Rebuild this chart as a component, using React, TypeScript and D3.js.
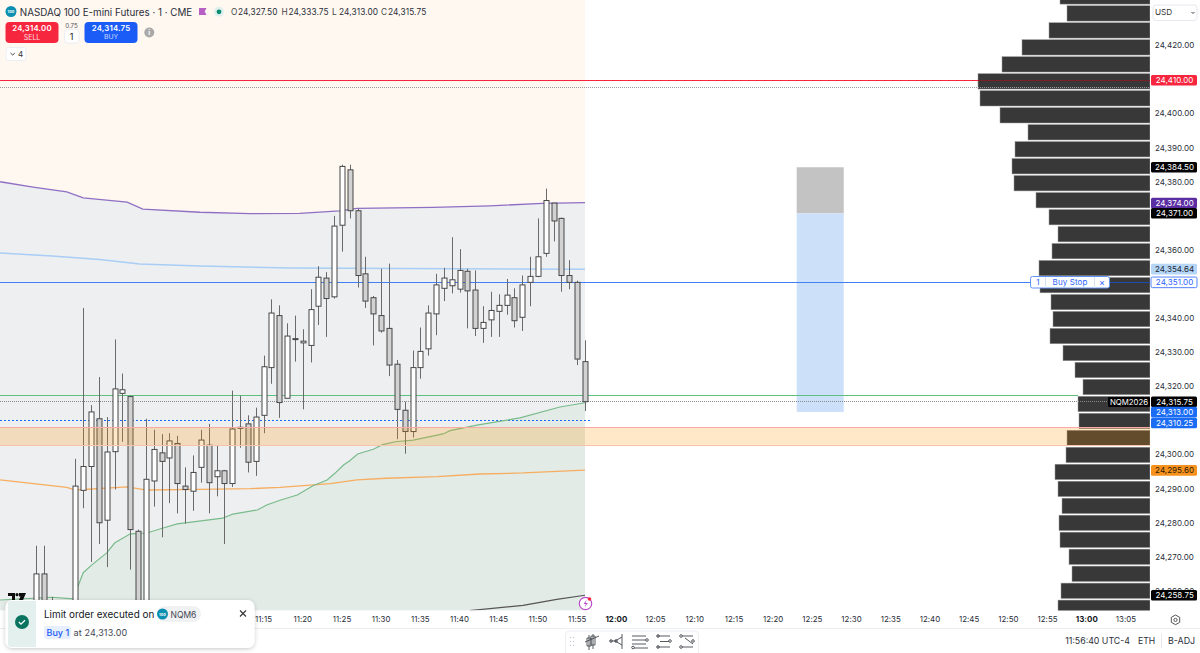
import React from "react";
import * as d3 from "d3";

const FIRST_MINUTE = 646; // 10:46
const opens = [24245,24265.25,24252,24250,24249,24245,24289.75,24296.75,24310.75,24281,24301.1,24318.2,24317.25,24277.75,24250,24292.5,24300.75,24299.25,24303.5,24291,24289.5,24296.5,24303,24293.75,24295.5,24291.75,24308.25,24309.25,24298.25,24311.75,24325.75,24341,24316.75,24334,24333,24332.25,24343.75,24352,24346.5,24367.5,24383.75,24371.75,24353.25,24346.25,24341,24337.25,24326.75,24313.25,24307,24325.75,24331.25,24341.5,24349,24349.75,24348.75,24354,24348.5,24337.25,24339.75,24342.25,24344,24346.25,24340.5,24350.75,24352.5,24359.25,24374,24369.5,24352.75,24350.75,24327.5];
const closes = [24265.25,24245,24248,24247,24246,24291,24296.75,24312.75,24280.25,24301,24319.5,24319.25,24278.25,24250,24293,24301.75,24298.25,24304.25,24291.75,24290,24295,24304.5,24292,24295.5,24291.75,24307.75,24308,24298,24311.25,24326,24341.75,24315.5,24335,24334.25,24333.5,24342.75,24352.25,24346,24367.25,24384.75,24371.75,24352.75,24345.25,24341.5,24336.5,24326.5,24313.5,24307,24325.75,24330.5,24341.75,24350,24352,24351.5,24354.25,24348.25,24337.25,24339,24342.5,24344,24347,24339.5,24350,24352.5,24358.25,24374.75,24368.75,24352.75,24350.75,24328.25,24315.75];
const highs = [24273.5,24273.5,24258.5,24252,24251,24299,24343.25,24314.75,24323,24311.25,24334,24324,24317.5,24278.25,24310.75,24307.5,24306.25,24306.5,24305.75,24296.5,24300,24307.5,24309.25,24303,24295.75,24319,24317.5,24311.75,24314,24329.25,24345.75,24344,24338.75,24341,24337,24348.75,24355.5,24353.75,24370.25,24385.25,24385.25,24372.25,24358.25,24346.75,24354.75,24356.25,24328,24315.75,24330.75,24337.5,24344,24353.25,24355,24364,24360.5,24354.75,24354.25,24343.75,24348,24347.25,24351.75,24349,24352.75,24358.25,24369.5,24378.25,24374,24369.75,24357.25,24351.25,24333.75];
const lows = [24240,24240,24240,24240,24240,24240,24284.5,24268.75,24274,24267.25,24290,24304,24266.5,24245,24245,24285,24276,24286,24283,24280,24283.75,24292,24283,24288,24274,24290.75,24302.25,24295,24294,24306.5,24321,24311,24316.75,24327.5,24313.5,24327.25,24338.25,24334.75,24346,24359.75,24369.5,24349.25,24343.25,24332.25,24336,24323.25,24304.75,24300.5,24305.25,24322.5,24329.25,24335.25,24345.25,24347.5,24347.75,24337.25,24335,24333,24334.75,24334.75,24341.25,24337.5,24336.5,24343.75,24352.25,24358.25,24362.75,24348,24348.75,24326.5,24313];

const purpleMinutes = [641.4,645.6,649.9,652,657.6,659.6,666.9,673.3,679.6,684.7,686.9,696.6,703.9,710.6,716];
const purplePrices = [24380.25,24378.7,24377.25,24375.5,24374.3,24372.25,24371.3,24370.9,24371,24371.7,24372.45,24372.75,24373.2,24373.9,24374.1];
const blueMinutes = [641.4,648,654.1,659.2,666.9,678.4,716];
const bluePrices = [24359.35,24358.5,24357.45,24356.15,24355.55,24354.95,24354.6];
const orangeMinutes = [641.4,649.9,651,657.6,660.1,666.9,673.3,677.1,683.5,686.9,690.7,697.1,702.6,708.1,716];
const orangePrices = [24292.8,24290.65,24289.85,24290.8,24289.85,24290.05,24290.25,24290.65,24291.7,24292.8,24293.3,24293.75,24294.55,24294.85,24295.7];
const greenMinutes = [641.4,648,650.7,652,653.1,655,656,658,660.1,662.2,664,669.8,671.1,674.2,675.4,677.1,679.3,681.3,683.1,684.1,685.2,686,687,689,690.2,691.8,694.1,697.9,698.8,702.2,707.7,712.8,716];
const greenPrices = [24257.6,24258.4,24257.9,24265.6,24267.9,24271.4,24274.3,24277,24277.25,24278.7,24279.9,24281.6,24282.8,24284,24285.45,24286.85,24288.4,24291.1,24292.8,24294.75,24297.2,24298.45,24300.4,24301.8,24303.15,24304,24304.5,24306.3,24307.25,24308.9,24311,24314.2,24315.45];
const darkMinutes = [701.3,708.1,712.4,716];
const darkPrices = [24254.5,24256,24257.8,24259];

const profileTopPrice = 24437;
const profileStep = 4.98;
const profileVolumes = [90,83,101,128,148,172,170,150,122,135,138,136,114,101,92,98,111,110,99,97,100,87,75,67,72,71,83,84,95,92,88,91,90,81,78,89,92];

const priceTicks = [24420,24400,24390,24380,24360,24340,24330,24320,24300,24290,24280,24270,24260];
const timeTicks = ["11:15","11:20","11:25","11:30","11:35","11:40","11:45","11:50","11:55","12:00","12:05","12:10","12:15","12:20","12:25","12:30","12:35","12:40","12:45","12:50","12:55","13:00","13:05"];
const boldTimes = ["12:00","13:00"];

const tagLabels = ["24,410.00","24,384.50","24,374.00","24,371.00","24,354.64","24,351.00","24,315.75","24,313.00","24,310.25","24,295.60","24,258.75"];
const tagPrices = [24410,24384.5,24374,24371,24354.64,24350.75,24315.75,24312.7,24309.5,24295.6,24259];
const tagFills = ["#f7253e","#000000","#5b2da3","#000000","#b5d6f7","#ffffff","#000000","#1a6cf5","#1a6cf5","#f8921e","#000000"];
const tagText = ["#ffffff","#ffffff","#ffffff","#ffffff","#1c2530","#2962ff","#ffffff","#ffffff","#ffffff","#2a1c08","#ffffff"];

const LEVEL_RED = 24410, LEVEL_RED_DOT = 24408, LEVEL_BLUE = 24350.75, LEVEL_GREEN = 24317.5, LEVEL_LAST = 24315.75, LEVEL_FILL = 24310.25;
const BAND_TOP = 24308.25, BAND_BOTTOM = 24303;
const BOX_TOP = 24384.5, BOX_ENTRY = 24371, BOX_BOTTOM = 24312.75, BOX_START = 743, BOX_END = 749;

const y = d3.scaleLinear().domain([24410, 24315.75]).range([80.3, 401.7]);
const x = d3.scaleLinear().domain([716, 781]).range([585, 1094.6]);
const vol = d3.scaleLinear().domain([0, 172]).range([1150, 978]);

const zip = (m: number[], p: number[]) => m.map((v, i) => [v, p[i]] as [number, number]);
const lineGen = d3.line<[number, number]>().x(d => x(d[0])).y(d => y(d[1]));
const PLOT_R = 585, PLOT_B = 610.5, AXIS_R = 1150;
const FONT = "Inter, 'Liberation Sans', sans-serif";

const purple = zip(purpleMinutes, purplePrices);
const green = zip(greenMinutes, greenPrices);
const aboveArea = d3.area<[number, number]>().x(d => x(d[0])).y0(0).y1(d => y(d[1]))(purple)!;
const belowArea = d3.area<[number, number]>().x(d => x(d[0])).y0(PLOT_B).y1(d => y(d[1]))(green)!;

const minuteOf = (t: string) => { const [h, m] = t.split(":").map(Number); return h * 60 + m; };
const fmt = d3.format(",.2f");

function HLine({ p, x1, x2, c, w = 1, dash }: { p: number; x1: number; x2: number; c: string; w?: number; dash?: string }) {
  const v = Math.floor(y(p)) + 0.5;
  return <line x1={x1} x2={x2} y1={v} y2={v} stroke={c} strokeWidth={w} strokeDasharray={dash} />;
}

export default function App() {
  return (
    <svg width={1200} height={653} viewBox="0 0 1200 653" style={{ position: "fixed", left: 0, top: 0, display: "block", background: "#fff" }} fontFamily={FONT}>
      <defs>
        <clipPath id="plot"><rect x={0} y={0} width={PLOT_R + 10} height={PLOT_B} /></clipPath>
        <filter id="sh" x="-10%" y="-20%" width="120%" height="150%"><feDropShadow dx="0" dy="1" stdDeviation="2" floodColor="#000" floodOpacity="0.22" /></filter>
      </defs>

      {/* session backgrounds */}
      <rect x={0} y={0} width={PLOT_R} height={PLOT_B} fill="#eeeff1" />
      <path d={aboveArea} fill="#fff8f1" />
      <path d={belowArea} fill="#e3ebe7" />

      {/* long position box */}
      <rect x={x(BOX_START)} width={x(BOX_END) - x(BOX_START)} y={y(BOX_TOP)} height={y(BOX_ENTRY) - y(BOX_TOP)} fill="#c3c3c3" />
      <rect x={x(BOX_START)} width={x(BOX_END) - x(BOX_START)} y={y(BOX_ENTRY)} height={y(BOX_BOTTOM) - y(BOX_ENTRY)} fill="#cde0fa" />

      {/* volume profile */}
      <g>
        {profileVolumes.map((v, i) => {
          const top = y(profileTopPrice - i * profileStep);
          return <rect key={i} x={vol(v)} y={top + 0.5} width={AXIS_R - vol(v)} height={y(profileTopPrice - (i + 1) * profileStep) - top - 1.6} fill="#383838" stroke="#9a9a9a" strokeWidth={0.5} />;
        })}
      </g>

      {/* levels */}
      <HLine p={LEVEL_RED} x1={0} x2={978} c="#f7253e" />
      <HLine p={LEVEL_RED} x1={978} x2={AXIS_R} c="#7c1f24" />
      <HLine p={LEVEL_RED_DOT} x1={0} x2={AXIS_R} c="#9a9a9a" dash="1 1" />
      <HLine p={LEVEL_BLUE} x1={0} x2={1031} c="#3f80f5" />
      <HLine p={LEVEL_BLUE} x1={1109} x2={AXIS_R} c="#1f4db0" />
      <HLine p={LEVEL_GREEN} x1={0} x2={1078} c="#5fbf7e" w={1.2} />
      <HLine p={LEVEL_LAST} x1={0} x2={1110} c="#8a8a8a" dash="1 1" />
      <HLine p={LEVEL_FILL} x1={0} x2={590} c="#1a6cf5" dash="2 2" w={1.2} />

      {/* moving lines */}
      <path d={lineGen(purple)!} fill="none" stroke="#8f6fc4" strokeWidth={1.3} />
      <path d={lineGen(zip(blueMinutes, bluePrices))!} fill="none" stroke="#a9cef5" strokeWidth={1.5} />
      <path d={lineGen(zip(orangeMinutes, orangePrices))!} fill="none" stroke="#f6ad60" strokeWidth={1.3} />
      <path d={lineGen(green)!} fill="none" stroke="#79bb8b" strokeWidth={1.2} />
      <g clipPath="url(#plot)">
        <path d={lineGen(zip(darkMinutes, darkPrices))!} fill="none" stroke="#555" strokeWidth={1.2} />
      </g>

      {/* candles */}
      <g clipPath="url(#plot)">
        {opens.map((o, i) => {
          const c = closes[i];
          const cx = Math.round(x(FIRST_MINUTE + i)) + 0.5;
          const t = y(Math.max(o, c)), b = y(Math.min(o, c));
          return (
            <g key={i}>
              <line x1={cx} x2={cx} y1={y(highs[i])} y2={y(lows[i])} stroke="#6a6a6a" strokeWidth={1} />
              <rect x={cx - 2.5} width={5} y={t} height={Math.max(b - t, 1)} fill={c >= o ? "#ffffff" : "#d2d2d2"} stroke="#474747" strokeWidth={1} />
            </g>
          );
        })}
      </g>

      {/* supply band */}
      <rect x={0} width={AXIS_R} y={y(BAND_TOP)} height={y(BAND_BOTTOM) - y(BAND_TOP)} fill="#ff9800" fillOpacity={0.22} />
      <HLine p={BAND_TOP} x1={0} x2={AXIS_R} c="#f6aaa2" />
      <HLine p={BAND_BOTTOM} x1={0} x2={AXIS_R} c="#f6c4aa" />

      {/* price scale */}
      <rect x={AXIS_R} y={0} width={50} height={628} fill="#fff" />
      {priceTicks.map(p => (
        <text key={p} x={1174.6} y={y(p) - 0.8} dy="0.36em" textAnchor="middle" fontSize={8} letterSpacing={0.05} fill="#2a2e39">{fmt(p)}</text>
      ))}
      {tagLabels.map((l, i) => {
        const cy = y(tagPrices[i]);
        const isOrder = tagFills[i] === "#ffffff";
        return (
          <g key={l}>
            <rect x={1151} y={cy - 5.3} width={46} height={10.6} rx={1.5} fill={tagFills[i]} stroke={isOrder ? "#2962ff" : "none"} strokeWidth={0.8} />
            <text x={1174.6} y={cy} dy="0.36em" textAnchor="middle" fontSize={8} letterSpacing={0.05} fill={tagText[i]}>{l}</text>
          </g>
        );
      })}
      <rect x={1153} y={5} width={44} height={15.5} rx={3} fill="#fff" stroke="#e6e8ee" />
      <text x={1155} y={12.5} dy="0.36em" fontSize={8.2} fill="#333">USD</text>
      <path d="M1191.5 12 l1.5 1.5 l1.5 -1.5" fill="none" stroke="#444" />

      {/* NQM2026 tag and buy stop widget */}
      <rect x={1108} y={397} width={42} height={10} rx={1} fill="#000" />
      <text x={1129} y={y(LEVEL_LAST)} dy="0.36em" textAnchor="middle" fontSize={7.8} fill="#fff">NQM2026</text>
      <g>
        <rect x={1030.5} y={276.5} width={79} height={11.5} rx={2} fill="#fff" stroke="#5f93f5" />
        <line x1={1045.5} x2={1045.5} y1={277} y2={288} stroke="#d5e2fb" />
        <line x1={1094.5} x2={1094.5} y1={277} y2={288} stroke="#d5e2fb" />
        <text x={1038} y={282.3} dy="0.36em" textAnchor="middle" fontSize={8} fill="#2962ff">1</text>
        <text x={1070} y={282.3} dy="0.36em" textAnchor="middle" fontSize={8} letterSpacing={0.1} fill="#2962ff">Buy Stop</text>
        <text x={1102} y={282.3} dy="0.36em" textAnchor="middle" fontSize={9} fill="#2962ff">×</text>
      </g>

      {/* time scale */}
      <rect x={0} y={PLOT_B} width={1200} height={42} fill="#fff" />
      {timeTicks.map(t => (
        <text key={t} x={x(minuteOf(t))} y={620} dy="0.02em" textAnchor="middle" dominantBaseline="middle" fontSize={7.9} letterSpacing={0.05} fontWeight={boldTimes.includes(t) ? 700 : 400} fill={boldTimes.includes(t) ? "#131722" : "#2a2e39"}>{t}</text>
      ))}
      <g fill="none" stroke="#555">
        <path d="M1175.5 615 l4.2 2.4 v4.9 l-4.2 2.4 l-4.2 -2.4 v-4.9 z" />
        <circle cx={1175.5} cy={619.9} r={1.6} />
      </g>
      <line x1={0} x2={1200} y1={628.5} y2={628.5} stroke="#ebedf1" />

      {/* bottom status */}
      <text x={1130} y={641} dy="0.36em" textAnchor="end" fontSize={8.8} fill="#2a2e39">11:56:40 UTC-4</text>
      <text x={1138} y={641} dy="0.36em" fontSize={8.6} fill="#2a2e39">ETH</text>
      <line x1={1161.5} x2={1161.5} y1={634} y2={648} stroke="#e6e8ee" />
      <text x={1168} y={641} dy="0.36em" fontSize={8.9} fill="#2a2e39">B-ADJ</text>

      {/* drawing toolbar */}
      <g>
        <rect x={565.5} y={631} width={133} height={26} rx={4} fill="#fff" stroke="#eceef2" />
        <g fill="#c9ccd3">
          {[0, 1, 2].map(i => <g key={i}><circle cx={570.5} cy={637.5 + i * 4} r={0.7} /><circle cx={573.5} cy={637.5 + i * 4} r={0.7} /></g>)}
        </g>
        <g fill="none" stroke="#44474f" strokeWidth={0.9}>
          <path d="M585 642 l14 -6 M589 635 v15 M593 634 v15 M587 638 h4 v8 h-4 z M591 636 h4 v9 h-4 z" />
          <path d="M610 641 h5 l7 -4 M615 641 l7 4 M622 634 v15" /><circle cx={611} cy={641} r={1.3} /><circle cx={616} cy={641} r={1.3} />
          <path d="M632 636 h14 M632 640 h14 M632 644 h14 M634 648 h14" /><circle cx={647} cy={640} r={1.3} /><circle cx={633} cy={647.5} r={1.3} />
          <path d="M657 636 h13 M657 647 h13 M660 641.5 h9" /><circle cx={658} cy={636} r={1.3} /><circle cx={670} cy={641} r={1.3} /><circle cx={658} cy={647} r={1.3} />
          <path d="M682 636 h11 M682 647 h11 M685 638 l8 6" /><circle cx={681} cy={636} r={1.3} /><circle cx={693} cy={641} r={1.3} /><circle cx={681} cy={647} r={1.3} />
        </g>
      </g>

      {/* lightning */}
      <circle cx={585.5} cy={603.5} r={6.2} fill="#fff" stroke="#b94fc9" strokeWidth={1.2} />
      <path d="M586.6 599.8 l-3 4.3 h2.2 l-1.2 3.2 l3.2 -4.4 h-2.2 z" fill="#b94fc9" />
      <circle cx={589.5} cy={599} r={1.8} fill="#f7253e" />

      {/* TV logo */}
      <path d="M8 593 h7 v7 h-3 v-4 h-4 z M19 593 h7 l-3 7 h-4 l1.5 -3.5 h-1.5 z" fill="#0c0c0c" />
      <circle cx={17} cy={594.7} r={1.6} fill="#0c0c0c" />

      {/* header */}
      <circle cx={11} cy={11.5} r={5.5} fill="#0b8fb0" />
      <text x={11} y={11.7} dy="0.36em" textAnchor="middle" fontSize={3.8} fontWeight={700} fill="#fff">100</text>
      <text x={19.8} y={12} dy="0.36em" fontSize={9.8} fill="#2a2e39">NASDAQ 100 E-mini Futures · 1 · CME</text>
      <path d="M199 8 h7.5 l-1.8 3.5 l1.8 3.5 h-7.5 z" fill="#b660c6" />
      <circle cx={219} cy={11.8} r={5} fill="#dff0ec" />
      <circle cx={219} cy={11.8} r={2.4} fill="#0b8a74" />
      {[["O","24,327.50",231],["H","24,333.75",281.5],["L","24,313.00",332],["C","24,315.75",381]].map(([k, v, px]) => (
        <g key={k as string}>
          <text x={px as number} y={12} dy="0.36em" fontSize={8.3} fill="#444">{k}</text>
          <text x={(px as number) + 7} y={12} dy="0.36em" fontSize={8.3} letterSpacing={0.1} fill="#2a2e39">{v}</text>
        </g>
      ))}
      <rect x={5.5} y={22} width={53} height={21} rx={4} fill="#f7263f" />
      <text x={32} y={28} dy="0.36em" textAnchor="middle" fontSize={7.8} fontWeight={600} letterSpacing={0.2} fill="#fff">24,314.00</text>
      <text x={32} y={37} dy="0.36em" textAnchor="middle" fontSize={7} fill="#fff" fillOpacity={0.85}>SELL</text>
      <text x={71.5} y={25.5} dy="0.36em" textAnchor="middle" fontSize={6.2} fill="#50535e">0.75</text>
      <rect x={64.5} y={29.5} width={14.5} height={13.5} rx={3} fill="#fff" stroke="#eceef2" />
      <text x={71.7} y={36.5} dy="0.36em" textAnchor="middle" fontSize={9} fill="#222">1</text>
      <rect x={84.5} y={22} width={53} height={21} rx={4} fill="#1a5cf5" />
      <text x={111} y={28} dy="0.36em" textAnchor="middle" fontSize={7.8} fontWeight={600} letterSpacing={0.2} fill="#fff">24,314.75</text>
      <text x={111} y={37} dy="0.36em" textAnchor="middle" fontSize={6.8} fill="#fff" fillOpacity={0.75}>BUY</text>
      <circle cx={149.3} cy={32.5} r={5} fill="#a9a9a9" />
      <text x={149.3} y={32.8} dy="0.36em" textAnchor="middle" fontSize={7} fontWeight={700} fill="#fff">i</text>
      <rect x={6} y={47.5} width={20} height={13} rx={2.5} fill="#fff" stroke="#eceef2" />
      <path d="M10.5 53 l2.2 2 l2.2 -2" fill="none" stroke="#444" />
      <text x={20.5} y={54.5} dy="0.36em" textAnchor="middle" fontSize={8} fill="#333">4</text>

      {/* toast */}
      <rect x={5.5} y={600} width={249} height={48} rx={7} fill="#fff" filter="url(#sh)" />
      <path d="M8 604 a3 3 0 0 1 3 -3 h25 v46 h-25 a3 3 0 0 1 -3 -3 z" fill="#e4f0ed" />
      <circle cx={22} cy={622} r={7} fill="#08745f" />
      <path d="M18.8 622 l2.2 2.2 l4 -4" fill="none" stroke="#fff" strokeWidth={1.3} />
      <text x={44} y={614.5} dy="0.36em" fontSize={9.9} fill="#131722">Limit order executed on</text>
      <rect x={157} y={606} width={44} height={16} rx={8} fill="#f0f1f3" />
      <circle cx={162.5} cy={614} r={5.5} fill="#0b8fb0" />
      <text x={162.5} y={614.2} dy="0.36em" textAnchor="middle" fontSize={3.8} fontWeight={700} fill="#fff">100</text>
      <text x={170.5} y={614.5} dy="0.36em" fontSize={8.5} fill="#434651">NQM6</text>
      <path d="M240 610.5 l6 6 M246 610.5 l-6 6" stroke="#333" strokeWidth={1.1} />
      <rect x={44} y={626} width={27} height={13} rx={3} fill="#e7eefc" />
      <text x={46.5} y={632.8} dy="0.36em" fontSize={9} fontWeight={500} fill="#1a5cf5">Buy 1</text>
      <text x={73.5} y={632.8} dy="0.36em" fontSize={9} letterSpacing={0.15} fill="#434651">at 24,313.00</text>
    </svg>
  );
}
